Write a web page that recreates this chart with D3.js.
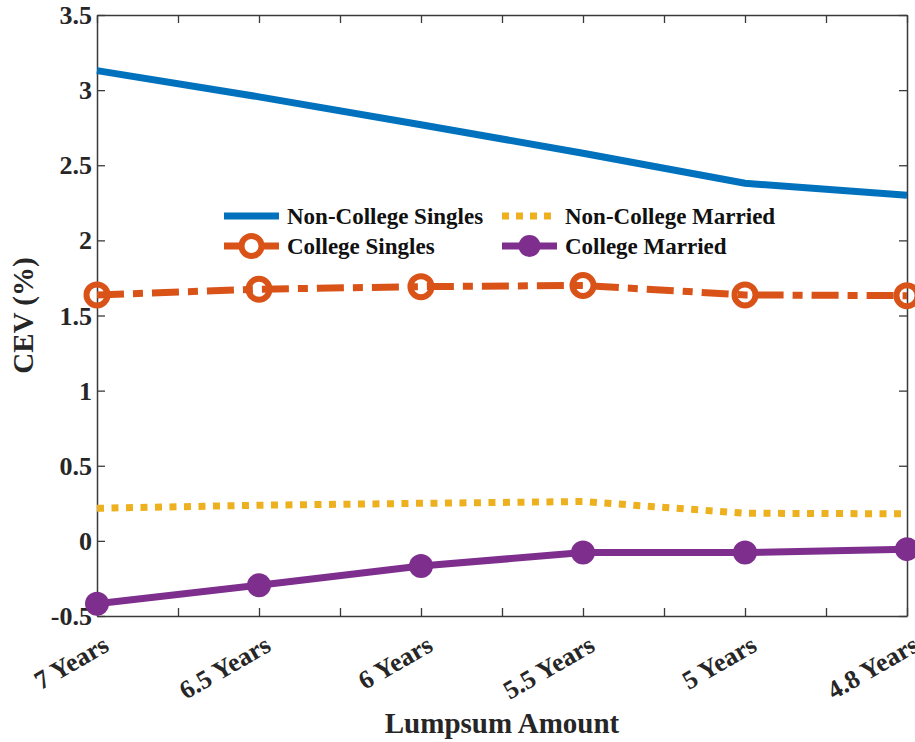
<!DOCTYPE html>
<html>
<head>
<meta charset="utf-8">
<script src="https://cdn.jsdelivr.net/npm/d3@7"></script>
<style>
  html, body { margin: 0; padding: 0; background: #fff; }
  svg { display: block; }
</style>
</head>
<body>
<svg id="chart" width="915" height="742"></svg>
<script>
// ---- data ----
const categories = ["7 Years", "6.5 Years", "6 Years", "5.5 Years", "5 Years", "4.8 Years"];
const nonCollegeSingles = [3.13, 2.955, 2.77, 2.58, 2.38, 2.30];
const nonCollegeMarried = [0.217, 0.237, 0.25, 0.262, 0.184, 0.18];
const collegeSingles = [1.637, 1.675, 1.692, 1.70, 1.637, 1.632];
const collegeMarried = [-0.418, -0.295, -0.167, -0.078, -0.078, -0.055];
const yTickValues = [-0.5, 0, 0.5, 1, 1.5, 2, 2.5, 3, 3.5];
const yTickLabels = ["-0.5", "0", "0.5", "1", "1.5", "2", "2.5", "3", "3.5"];
const xTickValues = [1, 1.5, 2, 2.5, 3, 3.5, 4, 4.5, 5, 5.5, 6];
const seriesNames = ["Non-College Singles", "Non-College Married", "College Singles", "College Married"];
const xLabel = "Lumpsum Amount";
const yLabel = "CEV (%)";

const FONT = "'Liberation Serif', Tinos, 'Times New Roman', Times, serif";

// ---- layout ----
const svg = d3.select("#chart");
const L = 97, R = 907, T = 15, B = 616;
const x = d3.scaleLinear().domain([1, 6]).range([L, R]);
const y = d3.scaleLinear().domain([-0.5, 3.5]).range([B, T]);
const axisColor = "#3a3a3a";

const colors = { ncs: "#0072BD", ncm: "#EDB120", cs: "#D95319", cm: "#7E2F8E" };

// ---- axes ----
function styleAxis(g) {
  g.attr("font-family", FONT);
  g.selectAll(".domain").attr("stroke", axisColor).attr("stroke-width", 1.5);
  g.selectAll(".tick line").attr("stroke", axisColor).attr("stroke-width", 1.3);
}

const gLeft = svg.append("g").attr("transform", `translate(${L},0)`)
  .call(d3.axisLeft(y).tickValues(yTickValues).tickSize(-8).tickSizeOuter(0).tickPadding(5)
    .tickFormat((d, i) => yTickLabels[i]));
gLeft.call(styleAxis);
gLeft.selectAll("text").style("font-family", FONT).style("font-weight", "bold")
  .style("font-size", "26px").attr("fill", "#262626").attr("dy", "0.33em");

const gRight = svg.append("g").attr("transform", `translate(${R},0)`)
  .call(d3.axisRight(y).tickValues(yTickValues).tickSize(-8).tickSizeOuter(0).tickFormat(""));
gRight.call(styleAxis);

const gTop = svg.append("g").attr("transform", `translate(0,${T})`)
  .call(d3.axisTop(x).tickValues(xTickValues).tickSize(-8).tickSizeOuter(0).tickFormat(""));
gTop.call(styleAxis);

const gBottom = svg.append("g").attr("transform", `translate(0,${B})`)
  .call(d3.axisBottom(x).tickValues(xTickValues).tickSize(-8).tickSizeOuter(0)
    .tickFormat(d => Number.isInteger(d) ? categories[d - 1] : ""));
gBottom.call(styleAxis);
gBottom.selectAll("text")
  .style("font-family", FONT).style("font-weight", "bold")
  .style("font-size", "26px").attr("fill", "#262626")
  .attr("text-anchor", "end")
  .attr("x", 0).attr("y", 0).attr("dy", 0)
  .attr("transform", "translate(13,34) rotate(-30)");

// axis titles
svg.append("text").attr("x", (L + R) / 2).attr("y", 733)
  .attr("text-anchor", "middle")
  .style("font-family", FONT).style("font-weight", "bold").style("font-size", "29px")
  .attr("fill", "#262626").text(xLabel);
svg.append("text").attr("transform", `translate(33,${(T + B) / 2}) rotate(-90)`)
  .attr("text-anchor", "middle")
  .style("font-family", FONT).style("font-weight", "bold").style("font-size", "29px")
  .attr("fill", "#262626").text(yLabel);

// ---- series ----
const line = d3.line().x((d, i) => x(i + 1)).y(d => y(d));

svg.append("path").datum(nonCollegeSingles).attr("d", line)
  .attr("fill", "none").attr("stroke", colors.ncs).attr("stroke-width", 7);

svg.append("path").datum(nonCollegeMarried).attr("d", line)
  .attr("fill", "none").attr("stroke", colors.ncm).attr("stroke-width", 7)
  .attr("stroke-dasharray", "7,7.5");

svg.append("path").datum(collegeSingles).attr("d", line)
  .attr("fill", "none").attr("stroke", colors.cs).attr("stroke-width", 7)
  .attr("stroke-dasharray", "27,9,10,9");
svg.selectAll(".csm").data(collegeSingles).enter().append("circle")
  .attr("cx", (d, i) => x(i + 1)).attr("cy", d => y(d)).attr("r", 10.5)
  .attr("fill", "none").attr("stroke", colors.cs).attr("stroke-width", 6);

svg.append("path").datum(collegeMarried).attr("d", line)
  .attr("fill", "none").attr("stroke", colors.cm).attr("stroke-width", 7);
svg.selectAll(".cmm").data(collegeMarried).enter().append("circle")
  .attr("cx", (d, i) => x(i + 1)).attr("cy", d => y(d)).attr("r", 12)
  .attr("fill", colors.cm);

// ---- legend ----
const leg = svg.append("g");
const legItems = [
  { name: seriesNames[0], col: 0, row: 0, color: colors.ncs, dash: null, marker: null },
  { name: seriesNames[1], col: 1, row: 0, color: colors.ncm, dash: "7,7", marker: null },
  { name: seriesNames[2], col: 0, row: 1, color: colors.cs, dash: null, marker: "open" },
  { name: seriesNames[3], col: 1, row: 1, color: colors.cm, dash: null, marker: "filled" }
];
const colX = [224, 502];
const rowY = [216, 246];
const sampleLen = 55;
legItems.forEach(it => {
  const x0 = colX[it.col], yy = rowY[it.row];
  leg.append("line").attr("x1", x0).attr("x2", x0 + sampleLen).attr("y1", yy).attr("y2", yy)
    .attr("stroke", it.color).attr("stroke-width", 7)
    .attr("stroke-dasharray", it.dash);
  if (it.marker === "open") {
    leg.append("circle").attr("cx", x0 + sampleLen / 2).attr("cy", yy).attr("r", 10)
      .attr("fill", "#fff").attr("stroke", it.color).attr("stroke-width", 6);
  } else if (it.marker === "filled") {
    leg.append("circle").attr("cx", x0 + sampleLen / 2).attr("cy", yy).attr("r", 11)
      .attr("fill", it.color);
  }
  leg.append("text").attr("x", x0 + sampleLen + 8).attr("y", yy).attr("dy", "0.33em")
    .style("font-family", FONT).style("font-weight", "bold")
    .style("font-size", "23px").attr("fill", "#111").text(it.name);
});
</script>
</body>
</html>
